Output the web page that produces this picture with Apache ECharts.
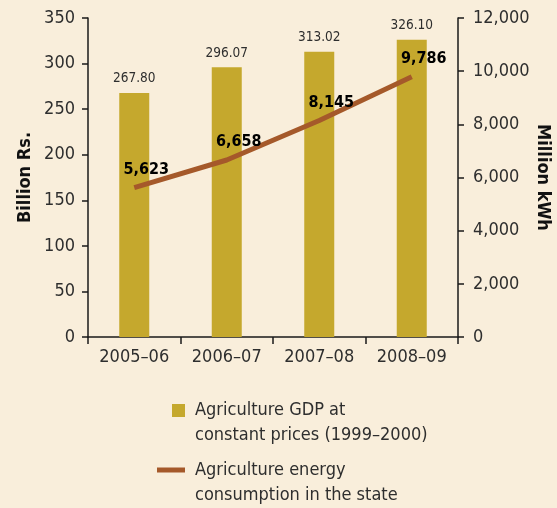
<!DOCTYPE html>
<html>
<head>
<meta charset="utf-8">
<script src="https://cdn.jsdelivr.net/npm/echarts@6/dist/echarts.min.js"></script>
<style>
  html, body { margin: 0; padding: 0; background: #f9eedb; }
  #chart { width: 557px; height: 508px; }
</style>
</head>
<body>
<div id="chart"></div>
<script>
// Agriculture GDP (billion Rs.) and agricultural power use (million kWh)
const years = ['2005\u201306', '2006\u201307', '2007\u201308', '2008\u201309'];
const gdpValues = [267.80, 296.07, 313.02, 326.10];
const energyValues = [5623, 6658, 8145, 9786];
const gdpTicks = { min: 0, max: 350, interval: 50 };
const energyTicks = { min: 0, max: 12000, interval: 2000 };

const FONT = '"DejaVu Sans Condensed", "Liberation Sans Narrow", "Liberation Sans", sans-serif';
const TEXT = '#2e2e2e';
const AXIS = '#1a1a1a';
const BAR = '#c5a82d';
const LINE = '#a5592a';

const chart = echarts.init(document.getElementById('chart'), null, { renderer: 'canvas' });

const axisCommon = {
  axisLine: { show: true, lineStyle: { color: AXIS, width: 1.5 } },
  axisTick: { show: true, inside: false, length: 6, lineStyle: { color: AXIS, width: 1.5 } },
  splitLine: { show: false },
  nameLocation: 'middle',
  nameMoveOverlap: false,
  nameTextStyle: { fontFamily: FONT, fontWeight: 'bold', fontSize: 18, color: '#111' }
};

chart.setOption({
  backgroundColor: '#f9eedb',
  textStyle: { fontFamily: FONT },
  grid: { left: 88, right: 99, top: 18, bottom: 171, containLabel: false, outerBoundsMode: 'none' },
  xAxis: {
    type: 'category',
    data: years,
    boundaryGap: true,
    axisLine: { lineStyle: { color: AXIS, width: 1.5 } },
    axisTick: { show: true, length: 7, alignWithLabel: false, interval: 0, lineStyle: { color: AXIS, width: 1.5 } },
    axisLabel: { fontFamily: FONT, fontSize: 18, color: TEXT, margin: 11, interval: 0 }
  },
  yAxis: [
    Object.assign({}, axisCommon, {
      type: 'value',
      position: 'left',
      min: gdpTicks.min, max: gdpTicks.max, interval: gdpTicks.interval,
      name: 'Billion Rs.',
      nameGap: 54,
      nameRotate: 90,
      axisLabel: { fontFamily: FONT, fontSize: 18, color: TEXT, margin: 13 }
    }),
    Object.assign({}, axisCommon, {
      type: 'value',
      position: 'right',
      min: energyTicks.min, max: energyTicks.max, interval: energyTicks.interval,
      name: 'Million kWh',
      nameGap: 76,
      nameRotate: -90,
      axisLabel: {
        fontFamily: FONT, fontSize: 18, color: TEXT, margin: 15,
        formatter: v => v.toLocaleString('en-US')
      }
    })
  ],
  legend: [
    {
      left: 172, top: 373, padding: 0,
      itemWidth: 13, itemHeight: 13,
      data: [{ name: 'gdp', icon: 'rect' }],
      formatter: () => '\nAgriculture GDP at\nconstant prices (1999\u20132000)',
      textStyle: { fontFamily: FONT, fontSize: 18, color: TEXT, lineHeight: 25, padding: [0, 0, 0, 5] }
    },
    {
      left: 157, top: 432.5, padding: 0,
      itemWidth: 28, itemHeight: 5,
      data: [{ name: 'energy', icon: 'rect' }],
      formatter: () => '\nAgriculture energy\nconsumption in the state',
      textStyle: { fontFamily: FONT, fontSize: 18, color: TEXT, lineHeight: 25, padding: [0, 0, 0, 5] }
    }
  ],
  series: [
    {
      name: 'gdp',
      type: 'bar',
      yAxisIndex: 0,
      data: gdpValues,
      barWidth: 30,
      itemStyle: { color: BAR },
      label: {
        show: true, position: 'top', distance: 7,
        fontFamily: FONT, fontSize: 13.5, color: TEXT,
        formatter: p => p.value.toFixed(2)
      }
    },
    {
      name: 'energy',
      type: 'line',
      yAxisIndex: 1,
      data: energyValues,
      color: LINE,
      showSymbol: true,
      symbol: 'circle',
      symbolSize: 0.01,
      lineStyle: { color: LINE, width: 5 },
      itemStyle: { color: LINE },
      label: {
        show: true, position: 'top', distance: 8, offset: [12, -2],
        fontFamily: FONT, fontSize: 16, fontWeight: 'bold', color: '#000',
        formatter: p => p.value.toLocaleString('en-US')
      },
      z: 3
    }
  ]
});
</script>
</body>
</html>
